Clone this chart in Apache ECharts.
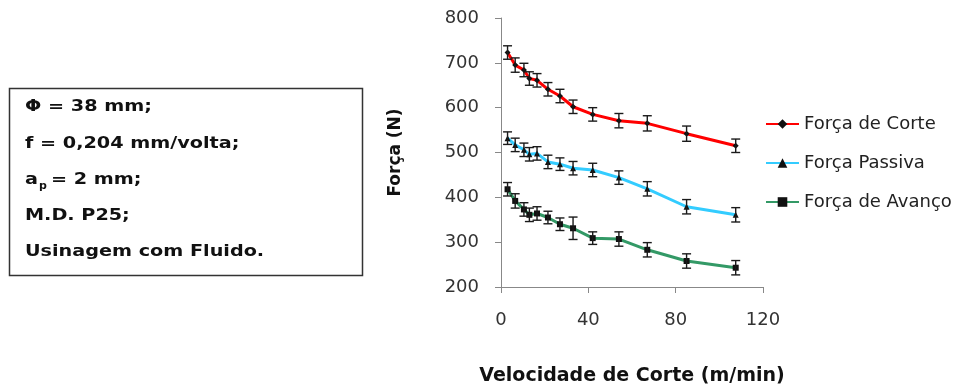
<!DOCTYPE html>
<html>
<head>
<meta charset="utf-8">
<script src="https://cdn.jsdelivr.net/npm/echarts@6/dist/echarts.min.js"></script>
<style>
  html, body { margin: 0; padding: 0; background: #fff; }
  #main { width: 972px; height: 389px; }
</style>
</head>
<body>
<div id="main"></div>
<script>
// dados
var velocidade = [3, 6.5, 10.5, 13, 16.5, 21.5, 27, 33, 42, 54, 67, 85, 107.5];
var forcaCorte = [723, 695, 684, 665, 661, 641, 626, 602, 585, 571, 565, 542, 515];
var erroCorte = [15, 16, 15, 15, 15, 15, 15, 15, 15, 16, 17, 17, 15];
var forcaPassiva = [532, 517, 506, 496, 498, 479, 474, 465, 461, 444, 419, 379, 361];
var erroPassiva = [14, 15, 15, 15, 15, 15, 14, 15, 15, 15, 16, 16, 16];
var forcaAvanco = [418, 392, 373, 361, 364, 355, 340, 331, 309, 307, 283, 258, 243];
var erroAvanco = [15, 16, 15, 15, 15, 14, 14, 25, 14, 16, 16, 16, 16];
var nomes = ['Força de Corte', 'Força Passiva', 'Força de Avanço'];
var xTicks = [0, 40, 80, 120];
var yTicks = [200, 300, 400, 500, 600, 700, 800];

var chart = echarts.init(document.getElementById('main'));

function pontos(ys) {
  return velocidade.map(function (x, i) { return [x, ys[i]]; });
}
function barras(ys, err) {
  return velocidade.map(function (x, i) { return [x, ys[i] - err[i], ys[i] + err[i]]; });
}

function desenhaErro(params, api) {
  var x = api.value(0);
  var lo = api.coord([x, api.value(1)]);
  var hi = api.coord([x, api.value(2)]);
  var w = 4.5;
  var st = { stroke: '#1a1a1a', lineWidth: 1.4 };
  return {
    type: 'group',
    children: [
      { type: 'line', shape: { x1: lo[0], y1: lo[1], x2: hi[0], y2: hi[1] }, style: st },
      { type: 'line', shape: { x1: lo[0] - w, y1: lo[1], x2: lo[0] + w, y2: lo[1] }, style: st },
      { type: 'line', shape: { x1: hi[0] - w, y1: hi[1], x2: hi[0] + w, y2: hi[1] }, style: st }
    ]
  };
}

function serieLinha(nome, ys, cor, simbolo) {
  return {
    name: nome,
    type: 'line',
    data: pontos(ys),
    symbol: simbolo,
    symbolSize: 6,
    showAllSymbol: true,
    lineStyle: { color: cor, width: 3 },
    itemStyle: { color: '#111', borderColor: '#111', borderWidth: 0 },
    z: 2
  };
}

function serieErro(ys, err) {
  return {
    type: 'custom',
    renderItem: desenhaErro,
    data: barras(ys, err),
    encode: { x: 0, y: [1, 2] },
    silent: true,
    z: 3
  };
}

var txt = { fontFamily: 'DejaVu Sans', fontWeight: 'bold', fontSize: 16, fill: '#111', verticalAlign: 'middle' };
function linhaCaixa(s, x, y) {
  return { type: 'text', x: x, y: y, scaleX: 1.2, style: Object.assign({ text: s }, txt) };
}

var option = {
  animation: false,
  backgroundColor: '#fff',
  grid: { left: 501, right: 209, top: 18, bottom: 102, outerBoundsMode: 'none' },
  legend: {
    data: nomes,
    orient: 'vertical',
    left: 760,
    top: 110,
    itemWidth: 33,
    itemHeight: 12,
    itemGap: 21,
    textStyle: { fontFamily: 'DejaVu Sans', fontSize: 18, color: '#222' }
  },
  xAxis: {
    type: 'value',
    min: xTicks[0],
    max: xTicks[xTicks.length - 1],
    interval: 40,
    name: 'Velocidade de Corte (m/min)',
    nameLocation: 'middle',
    nameGap: 80,
    nameTextStyle: { fontFamily: 'DejaVu Sans', fontWeight: 'bold', fontSize: 19, color: '#111' },
    axisLine: { lineStyle: { color: '#888', width: 1 } },
    axisTick: { inside: false, length: 6, lineStyle: { color: '#888' } },
    axisLabel: { margin: 24, fontFamily: 'DejaVu Sans', fontSize: 18, color: '#333' },
    splitLine: { show: false }
  },
  yAxis: {
    type: 'value',
    min: yTicks[0],
    max: yTicks[yTicks.length - 1],
    interval: 100,
    name: 'Força (N)',
    nameLocation: 'middle',
    nameGap: 97,
    nameTextStyle: { fontFamily: 'DejaVu Sans', fontWeight: 'bold', fontSize: 17, color: '#111' },
    axisLine: { show: true, lineStyle: { color: '#888', width: 1 } },
    axisTick: { show: true, inside: false, length: 6, lineStyle: { color: '#888' } },
    axisLabel: { margin: 22, fontFamily: 'DejaVu Sans', fontSize: 18, color: '#333' },
    splitLine: { show: false }
  },
  graphic: [
    { type: 'rect', shape: { x: 9.5, y: 88.5, width: 353, height: 187 },
      style: { fill: '#fff', stroke: '#333', lineWidth: 1.5 } },
    linhaCaixa('Φ = 38 mm;', 25, 107),
    linhaCaixa('f = 0,204 mm/volta;', 25, 144),
    linhaCaixa('a', 25, 180),
    { type: 'text', x: 39, y: 186, style: { text: 'p', fontFamily: 'DejaVu Sans', fontWeight: 'bold', fontSize: 11, fill: '#111', verticalAlign: 'middle' } },
    linhaCaixa('= 2 mm;', 51, 180),
    linhaCaixa('M.D. P25;', 25, 216),
    linhaCaixa('Usinagem com Fluido.', 25, 252)
  ],
  series: [
    serieLinha(nomes[0], forcaCorte, '#ff0000', 'diamond'),
    serieLinha(nomes[1], forcaPassiva, '#33ccff', 'triangle'),
    serieLinha(nomes[2], forcaAvanco, '#339966', 'rect'),
    serieErro(forcaCorte, erroCorte),
    serieErro(forcaPassiva, erroPassiva),
    serieErro(forcaAvanco, erroAvanco)
  ]
};

chart.setOption(option);
</script>
</body>
</html>
